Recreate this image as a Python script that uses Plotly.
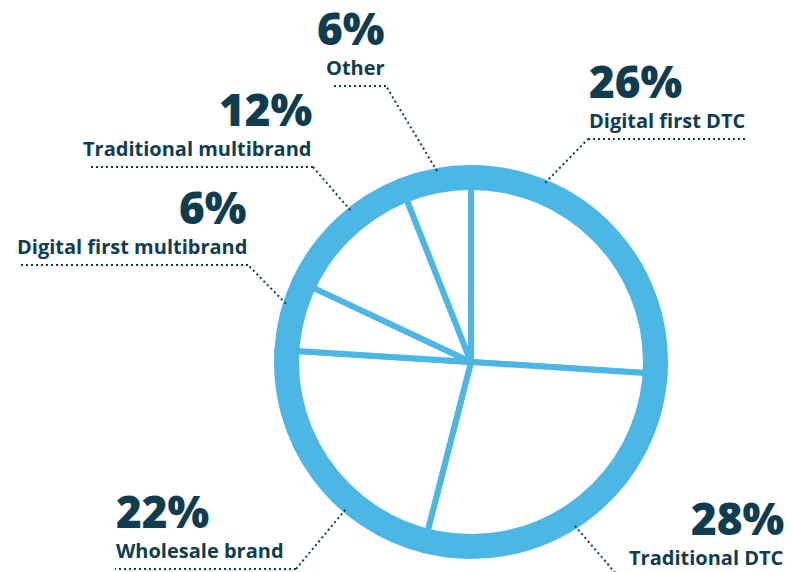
import math
import plotly.graph_objects as go

# Channel shares (%), clockwise from 12 o'clock
channels = ["Digital first DTC", "Traditional DTC", "Wholesale brand",
            "Digital first multibrand", "Traditional multibrand", "Other"]
shares = [26, 28, 22, 6, 12, 6]

W, H = 792, 572
BLUE = "#4cb6e4"
NAVY = "#0f3d4f"

# pie geometry in pixels
cx, cy, R = 471, 362, 194
ring = 22

dom_x = [(cx - R) / W, (cx + R) / W]
dom_y = [(H - cy - R) / H, (H - cy + R) / H]

fig = go.Figure()

# white wedges separated by blue spokes
fig.add_trace(go.Pie(
    labels=channels, values=shares, sort=False, direction="clockwise",
    rotation=0, textinfo="none", hoverinfo="label+percent",
    marker=dict(colors=["white"] * len(shares), line=dict(color=BLUE, width=6)),
    domain=dict(x=dom_x, y=dom_y), showlegend=False,
))
# thick outer rim
fig.add_trace(go.Pie(
    values=[1], hole=(R - ring) / R, sort=False, textinfo="none", hoverinfo="skip",
    marker=dict(colors=[BLUE], line=dict(width=0)),
    domain=dict(x=dom_x, y=dom_y), showlegend=False,
))

# label layout: (ring angle in degrees clockwise from top, elbow x, elbow y,
#                underline end x, text anchor side)
label_layout = {
    "Digital first DTC":        (22.5, 588, 139, 748, "left"),
    "Traditional DTC":          (147.6, 618, 576, 785, "right"),
    "Wholesale brand":          (220.4, 296, 569, 115, "left"),
    "Digital first multibrand": (287.5, 248, 265, 18, "right"),
    "Traditional multibrand":   (321.5, 313, 167, 88, "right"),
    "Other":                    (349.9, 386, 86, 332, "right"),
}


def px(x, y):
    """pixel position -> paper fractions"""
    return x / W, 1 - y / H


shapes = []
annotations = []
for name, val in zip(channels, shares):
    ang, ex, ey, ux, side = label_layout[name]
    a = math.radians(ang)
    rx = cx + R * math.sin(a)
    ry = cy - R * math.cos(a)
    dot = dict(color=NAVY, width=2, dash="2px,3px")
    shapes.append(dict(type="line", xref="x", yref="y", x0=rx, y0=ry, x1=ex, y1=ey, line=dot))
    shapes.append(dict(type="line", xref="x", yref="y", x0=ex, y0=ey, x1=ux, y1=ey, line=dot))
    if side == "left":
        tx, anchor = min(ex, ux), "left"
    else:
        tx, anchor = max(ex, ux), "right"
    lx, ly = px(tx, ey - 4)
    annotations.append(dict(
        x=lx, y=ly, xref="paper", yref="paper", xanchor=anchor, yanchor="bottom",
        text=name, showarrow=False, borderpad=0,
        font=dict(family="Open Sans", size=20, color=NAVY, weight=700),
    ))
    vx, vy = px(tx, ey - 27)
    annotations.append(dict(
        x=vx, y=vy, xref="paper", yref="paper", xanchor=anchor, yanchor="bottom",
        text=f"{val}%", showarrow=False, borderpad=0,
        font=dict(family="Open Sans", size=44, color=NAVY, weight=800),
    ))

fig.update_layout(
    width=W, height=H, margin=dict(l=0, r=0, t=0, b=0),
    paper_bgcolor="white", plot_bgcolor="white",
    xaxis=dict(range=[0, W], visible=False, fixedrange=True),
    yaxis=dict(range=[H, 0], visible=False, fixedrange=True),
    shapes=shapes, annotations=annotations,
)

fig.write_html("out.html")
